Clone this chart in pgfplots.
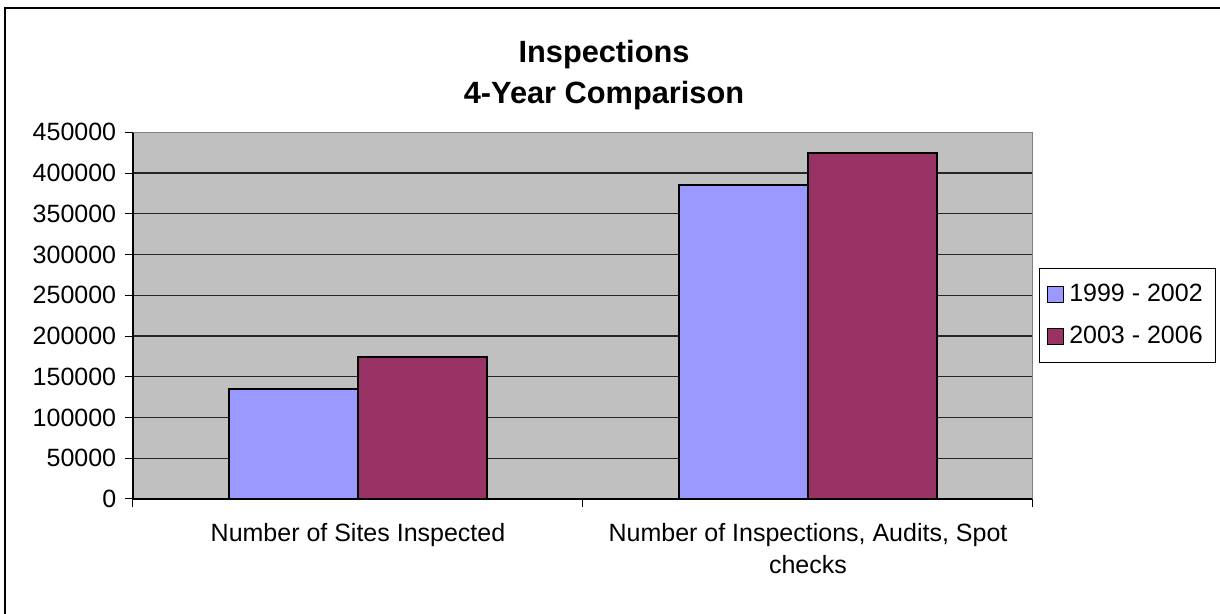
\documentclass[border=0pt]{standalone}
\usepackage{pgfplots}
\pgfplotsset{compat=1.18}
\usepackage{fontspec}
\setmainfont{Liberation Sans}

\definecolor{seriesA}{HTML}{9999FF}
\definecolor{seriesB}{HTML}{993366}
\definecolor{plotbg}{HTML}{C0C0C0}
\definecolor{edgegray}{HTML}{808080}

\pgfplotsset{
  sqlegend/.style={legend image code/.code={%
    \draw[##1, line width=0.5pt] (0pt,-3.2pt) rectangle (6.4pt,3.2pt);}},
}

\begin{document}
\begin{tikzpicture}
% page: 1220 x 614 px at 0.4pt per px, origin top left
\useasboundingbox (0,0) rectangle (488pt,-245.6pt);
\draw[line width=0.8pt] (2pt,-245.6pt) -- (2pt,-3.4pt) -- (488pt,-3.4pt);

\node[font=\bfseries\fontsize{12.3}{14}\selectfont, anchor=base] at (241.6pt,-25pt) {Inspections};
\node[font=\bfseries\fontsize{12.3}{14}\selectfont, anchor=base] at (241.6pt,-41.4pt) {4-Year Comparison};

\begin{axis}[
  at={(53.2pt,-199.6pt)}, anchor=south west,
  width=360pt, height=146.7pt, scale only axis,
  ybar=0pt, bar width=51.6pt,
  ymin=0, ymax=450000,
  ytick={0,50000,...,450000},
  scaled y ticks=false,
  yticklabel style={/pgf/number format/fixed, /pgf/number format/1000 sep={},
    /pgf/number format/assume math mode=true},
  xmin=-0.5, xmax=1.5,
  xtick={0,1},
  xticklabels={Number of Sites Inspected, {Number of Inspections, Audits, Spot\\checks}},
  minor xtick={-0.5,0.5,1.5},
  major x tick style={draw=none},
  minor x tick style={draw=black, line width=0.4pt},
  y tick style={draw=black, line width=0.4pt},
  tick align=outside,
  major tick length=3.2pt, minor tick length=3.2pt,
  axis x line*=bottom, axis y line*=left,
  axis line style={line width=0.6pt, black},
  axis background/.style={fill=plotbg},
  ymajorgrids, grid style={black!85, line width=0.45pt},
  tick label style={font=\fontsize{10}{13}\selectfont},
  xticklabel style={align=center, yshift=-3pt},
  legend style={at={(1.0067,0.5)}, anchor=west, draw=black, fill=white,
    font=\fontsize{10}{12}\selectfont, legend cell align=left,
    inner xsep=3pt, inner ysep=4.2pt, row sep=4.2pt},
]
\addplot[fill=seriesA, draw=black, line width=0.7pt, sqlegend]
  coordinates {(0,135000) (1,385000)};
\addlegendentry{1999 - 2002}
\addplot[fill=seriesB, draw=black, line width=0.7pt, sqlegend]
  coordinates {(0,174000) (1,425000)};
\addlegendentry{2003 - 2006}
\draw[edgegray, line width=0.8pt] (rel axis cs:0,1) -- (rel axis cs:1,1) -- (rel axis cs:1,0);
\end{axis}
\end{tikzpicture}
\end{document}
